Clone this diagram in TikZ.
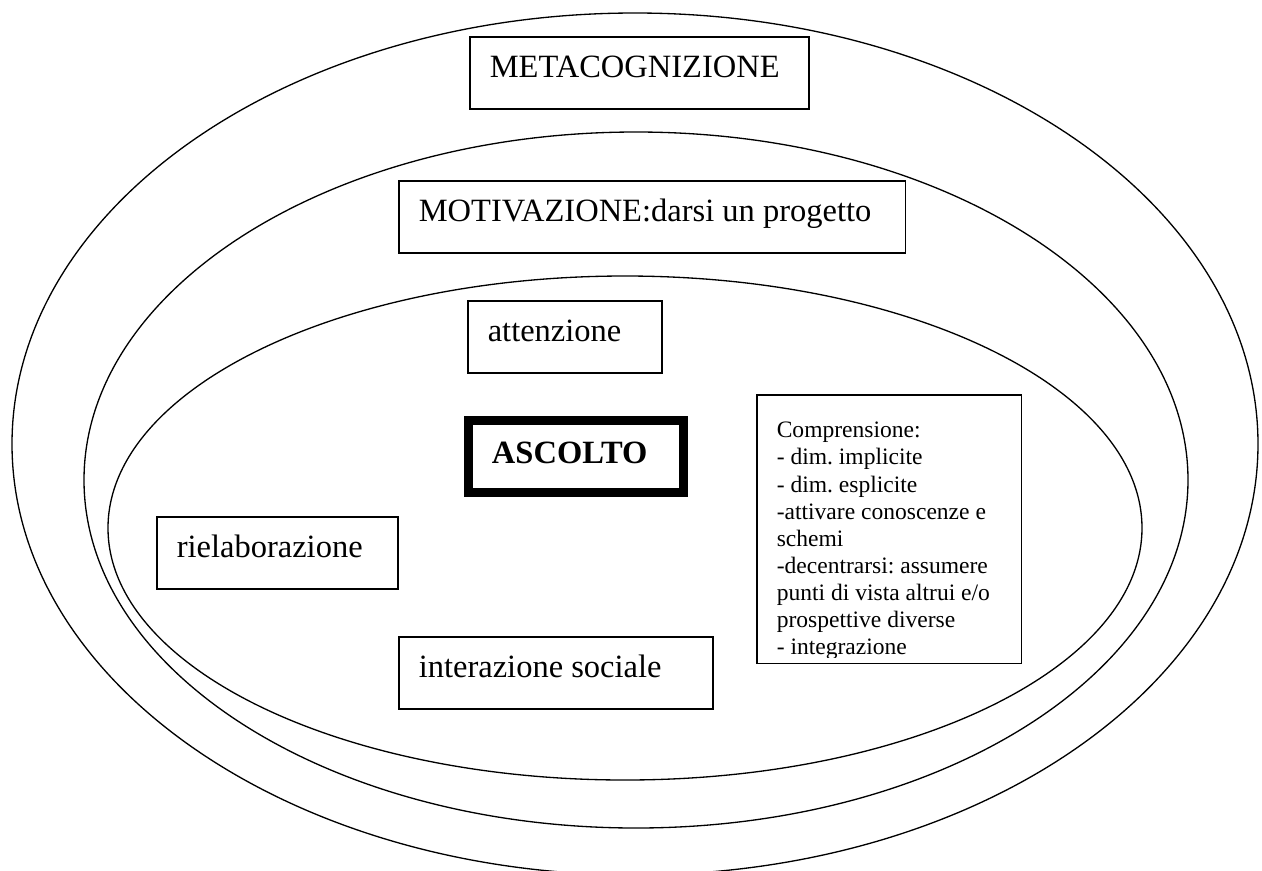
\documentclass[tikz,border=0pt]{standalone}
\usepackage{fontspec}
\setmainfont{Liberation Serif}
\frenchspacing
\begin{document}
\begin{tikzpicture}[x=0.02cm,y=-0.02cm,
	ring/.style={line width=0.75pt},
	box/.style={draw,line width=0.9pt,anchor=north west,inner xsep=0.4cm,inner ysep=0pt,
		text height=0.82cm,text depth=0.62cm,align=flush left,font=\fontsize{18.5}{21}\selectfont},
	mainbox/.style={box,line width=0.18cm,inner xsep=0.47cm,text height=0.85cm,text depth=0.59cm,
		font=\fontsize{18.5}{21}\selectfont\bfseries},
	listbox/.style={box,draw=none,inner xsep=0.38cm,text height=0.84cm,text depth=4.5cm,
		font=\fontsize{13.4}{15.45}\selectfont}]
	\useasboundingbox (0,0) rectangle (1262,870);
	%		rings
	\draw[ring] (635,444) ellipse (623 and 431);
	\draw[ring] (636,480) ellipse (552 and 348);
	\draw[ring] (625,528) ellipse (517 and 252);
	\node[box,text width=5.98cm] (meta) at (469,36) {METACOGNIZIONE};
	\node[box,text width=9.34cm] (motiv) at (398,180) {MOTIVAZIONE:darsi un progetto};
	\node[box,text width=3.08cm] (atten) at (467,300) {attenzione};
	\node[mainbox,text width=3.36cm] (ascolto) at (464,416) {ASCOLTO};
	\node[box,text width=4.02cm] (rielab) at (156,516) {rielaborazione};
	\node[box,text width=5.48cm] (interaz) at (398,636) {interazione sociale};
	\begin{scope}
		\clip (740,380) rectangle (1040,657);
		\node[listbox,text width=4.5cm] (compr) at (757,395) {Comprensione:\\- dim. implicite\\- dim. esplicite\\-attivare conoscenze e\\schemi\\-decentrarsi: assumere\\punti di vista altrui e/o\\prospettive diverse\\- integrazione};
	\end{scope}
	\draw[line width=0.9pt] (compr.north west) rectangle (compr.south east);
\end{tikzpicture}
\end{document}
